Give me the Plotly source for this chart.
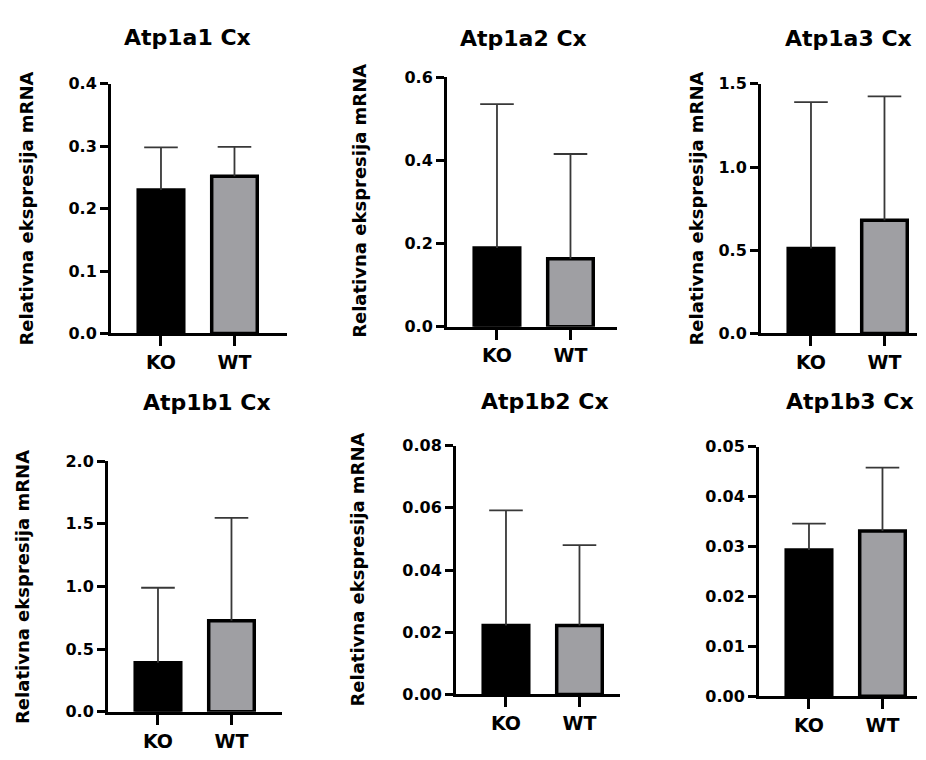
import plotly.graph_objects as go

# page is shown with the browser's default 8px body margin, so the figure is
# made 16px smaller than the window and every pixel position is shifted by 8
OFF = 8
W, H = 926 - 2 * OFF, 760 - 2 * OFF

# ---- data ----
genes = ["Atp1a1", "Atp1a2", "Atp1a3", "Atp1b1", "Atp1b2", "Atp1b3"]
titles = [g + " Cx" for g in genes]
groups = ["KO", "WT"]
ko_mean = [0.230, 0.189, 0.510, 0.392, 0.0222, 0.0293]
ko_sd = [0.068, 0.346, 0.880, 0.598, 0.0370, 0.0053]
wt_mean = [0.252, 0.163, 0.680, 0.726, 0.0222, 0.0331]
wt_sd = [0.047, 0.252, 0.744, 0.822, 0.0258, 0.0127]
y_max = [0.4, 0.6, 1.5, 2.0, 0.08, 0.05]
y_ticks = [
    [0.0, 0.1, 0.2, 0.3, 0.4],
    [0.0, 0.2, 0.4, 0.6],
    [0.0, 0.5, 1.0, 1.5],
    [0.0, 0.5, 1.0, 1.5, 2.0],
    [0.00, 0.02, 0.04, 0.06, 0.08],
    [0.00, 0.01, 0.02, 0.03, 0.04, 0.05],
]
y_ticklabels = [
    ["0.0", "0.1", "0.2", "0.3", "0.4"],
    ["0.0", "0.2", "0.4", "0.6"],
    ["0.0", "0.5", "1.0", "1.5"],
    ["0.0", "0.5", "1.0", "1.5", "2.0"],
    ["0.00", "0.02", "0.04", "0.06", "0.08"],
    ["0.00", "0.01", "0.02", "0.03", "0.04", "0.05"],
]
y_title = "Relativna ekspresija mRNA"
show_ytitle = [True, True, True, True, True, False]

# ---- layout geometry (window pixels) ----
boxes = [  # left, right, top, bottom of plot area
    (111, 287, 77, 335),
    (447, 617, 70, 328),
    (761, 917, 77, 335),
    (108, 282, 467, 726),
    (456, 620, 451, 708),
    (759, 917, 452, 710),
]
title_pos = [(187, 29), (523, 30), (848, 30), (207, 406), (545, 405), (850, 405)]
ytitle_pos = [(27, 206), (360, 198), (697, 206), (22, 597), (358, 579), None]
UNIT = 73.5
XLEFT = -0.68


def px(xp):
    return (xp - OFF) / W


def py(yp):
    return 1 - (yp - OFF) / H


FONT = "DejaVu Sans"
BLACK = "#000000"
GRAY = "#9f9fa3"
ERR = "#383838"

fig = go.Figure()
annotations = []
layout = {}

for i in range(6):
    n = "" if i == 0 else str(i + 1)
    xa, ya = "x" + n, "y" + n
    left, right, top, bottom = boxes[i]
    xright = XLEFT + (right - left) / UNIT
    means = [ko_mean[i], wt_mean[i]]
    sds = [ko_sd[i], wt_sd[i]]
    for j, col in enumerate([BLACK, GRAY]):
        fig.add_trace(
            go.Bar(
                x=[j],
                y=[means[j]],
                width=0.62,
                marker=dict(color=col, line=dict(color=BLACK, width=3.5)),
                error_y=dict(
                    type="data",
                    array=[sds[j]],
                    arrayminus=[0],
                    symmetric=False,
                    color=ERR,
                    thickness=1.8,
                    width=0,
                ),
                xaxis=xa,
                yaxis=ya,
                showlegend=False,
                hoverinfo="skip",
            )
        )
    # error-bar caps (only on the upper end)
    fig.add_trace(
        go.Scatter(
            x=[0, 1],
            y=[m + s for m, s in zip(means, sds)],
            mode="markers",
            marker=dict(symbol="line-ew", size=24, line=dict(color=ERR, width=1.8)),
            xaxis=xa,
            yaxis=ya,
            showlegend=False,
            hoverinfo="skip",
        )
    )
    layout["xaxis" + n] = dict(
        domain=[px(left), px(right)],
        range=[XLEFT, xright],
        anchor=ya,
        tickvals=[0, 1],
        ticktext=groups,
        ticks="outside",
        ticklen=10,
        tickwidth=3,
        tickcolor=BLACK,
        showline=True,
        linecolor=BLACK,
        linewidth=3,
        showgrid=False,
        zeroline=False,
        tickfont=dict(family=FONT, size=19, color=BLACK, weight="bold"),
        fixedrange=True,
    )
    layout["yaxis" + n] = dict(
        domain=[py(bottom), py(top)],
        range=[0, y_max[i]],
        anchor=xa,
        tickvals=y_ticks[i],
        ticktext=y_ticklabels[i],
        ticks="outside",
        ticklen=8,
        tickwidth=3,
        tickcolor=BLACK,
        showline=True,
        linecolor=BLACK,
        linewidth=3,
        showgrid=False,
        zeroline=False,
        tickfont=dict(family=FONT, size=16, color=BLACK, weight="bold"),
        fixedrange=True,
    )
    tx, ty = title_pos[i]
    annotations.append(
        dict(
            text=titles[i],
            x=px(tx),
            y=py(ty),
            xref="paper",
            yref="paper",
            xanchor="center",
            yanchor="middle",
            showarrow=False,
            font=dict(family=FONT, size=22, color=BLACK, weight="bold"),
        )
    )
    if show_ytitle[i]:
        yx, yy = ytitle_pos[i]
        annotations.append(
            dict(
                text=y_title,
                x=px(yx),
                y=py(yy),
                xref="paper",
                yref="paper",
                xanchor="center",
                yanchor="middle",
                textangle=-90,
                showarrow=False,
                font=dict(family=FONT, size=18, color=BLACK, weight="bold"),
            )
        )

fig.update_layout(
    width=W,
    height=H,
    margin=dict(l=0, r=0, t=0, b=0),
    paper_bgcolor="white",
    plot_bgcolor="white",
    font=dict(family=FONT, color=BLACK, weight="bold"),
    annotations=annotations,
    **layout,
)

fig.write_html("out.html")
